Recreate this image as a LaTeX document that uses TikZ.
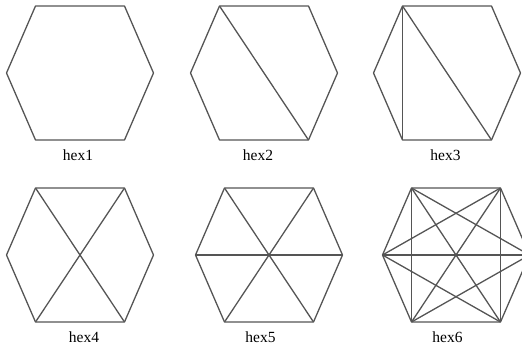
\documentclass[tikz,border=0pt]{standalone}
\usepackage{fontspec}
\setmainfont{Liberation Serif}
\usepackage{tikz}
\usepackage{xcolor}

\definecolor{edgegray}{RGB}{85,85,85}

% corners of one hexagon: #1 name, (#2,#3) centre
\newcommand{\hexcorners}[3]{%
  \coordinate (#1tl) at (#2-44.5,#3-67);
  \coordinate (#1tr) at (#2+44.5,#3-67);
  \coordinate (#1r)  at (#2+73.5,#3);
  \coordinate (#1br) at (#2+44.5,#3+67);
  \coordinate (#1bl) at (#2-44.5,#3+67);
  \coordinate (#1l)  at (#2-73.5,#3);
  \draw (#1tl) -- (#1tr) -- (#1r) -- (#1br) -- (#1bl) -- (#1l) -- cycle;}

\begin{document}
\begin{tikzpicture}[x=1pt,y=-1pt,line width=1.3pt,line join=round,
  hexlabel/.style={anchor=base,font=\fontsize{15.5}{18}\selectfont}]
\useasboundingbox (0,0) rectangle (522,345);
\clip (0,0) rectangle (522,345);

{\color{edgegray}
\hexcorners{a}{80}{73}
\hexcorners{b}{264}{73}
\draw (btl) -- (bbr);
\hexcorners{c}{447}{73}
\draw (ctl) -- (cbr); \draw (ctl) -- (cbl);

\hexcorners{d}{80}{255}
\draw (dtl) -- (dbr); \draw (dtr) -- (dbl);
\hexcorners{e}{269}{255}
\draw (etl) -- (ebr); \draw (etr) -- (ebl); \draw (el) -- (er);
\hexcorners{f}{456}{255}
\draw (ftl) -- (fbl); \draw (ftr) -- (fbr); \draw (fl) -- (fr);
\draw (ftl) -- (fbr); \draw (ftr) -- (fbl);
\draw (fl) -- (ftr); \draw (fl) -- (fbr);
\draw (fr) -- (ftl); \draw (fr) -- (fbl);}

\node[hexlabel] (hex1) at (78,160) {hex1};
\node[hexlabel] (hex2) at (258,160) {hex2};
\node[hexlabel] (hex3) at (445.5,160) {hex3};
\node[hexlabel] (hex4) at (84,342) {hex4};
\node[hexlabel] (hex5) at (260.5,342) {hex5};
\node[hexlabel] (hex6) at (447.5,342) {hex6};
\end{tikzpicture}
\end{document}
